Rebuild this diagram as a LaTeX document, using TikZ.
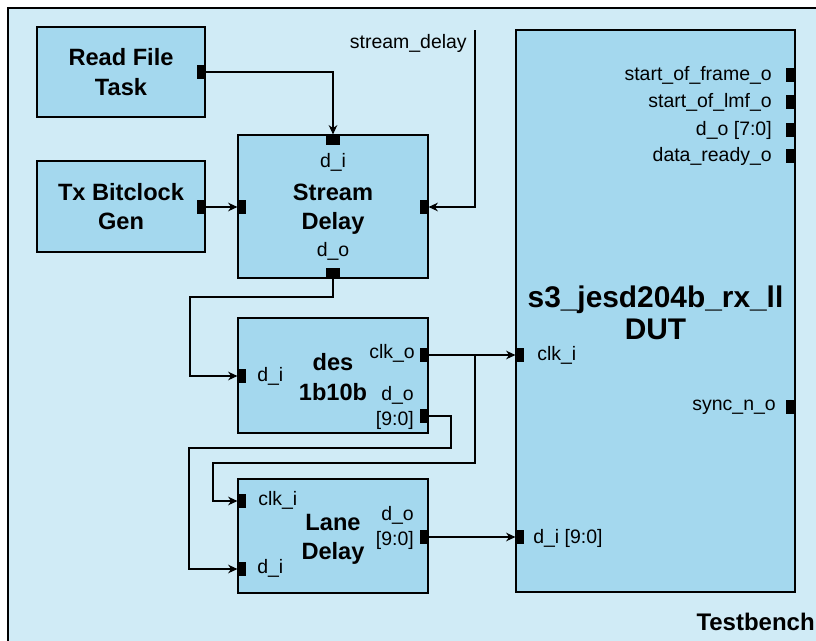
\documentclass[tikz,border=0pt]{standalone}
\usepackage{fontspec}
\setmainfont{Liberation Sans}
\usepackage{xcolor}
\definecolor{BenchBlue}{RGB}{208,235,246}
\definecolor{BlockBlue}{RGB}{164,216,238}
\usepackage{tikz}
\usetikzlibrary{positioning, arrows.meta}

\begin{document}
\begin{tikzpicture}[x=0.75pt, y=-0.75pt,
    block/.style={draw, line width=2pt, fill=BlockBlue, inner sep=0pt, align=center,
      font=\fontsize{17.7}{22}\selectfont\bfseries},
    blocksize/.style 2 args={minimum width=#1*0.75pt, minimum height=#2*0.75pt},
    vport/.style={fill=black, inner sep=0pt, minimum width=6.5pt, minimum height=10.5pt},
    hport/.style={fill=black, inner sep=0pt, minimum width=10.5pt, minimum height=8pt},
    lbl/.style={inner sep=0pt, font=\fontsize{14.6}{19}\selectfont},
    wire/.style={line width=0.8pt},
    sig/.style={wire, -{Stealth[length=7pt, width=6.5pt]}}]
  \useasboundingbox (0,0) rectangle (816,640);
  \clip (0,0) rectangle (816,640);
  % Banco de pruebas / Testbench
  \draw[fill=BenchBlue, line width=1.8pt] (8,8) rectangle (840,670);
  \node[inner sep=0pt, anchor=base east, font=\fontsize{18}{20}\selectfont\bfseries]
    (tblbl) at (815,630) {Testbench};

  % Bloques / Blocks
  \node[block, blocksize={168}{90}] (readfile) at (121,72) {Read File\\Task};
  \node[block, blocksize={168}{91}] (txgen) at (121,206.5) {Tx Bitclock\\Gen};
  \node[block, blocksize={190}{143}] (stream) at (333,206.5) {};
  \node[block, blocksize={190}{115}] (des) at (333,375.5) {};
  \node[block, blocksize={190}{114}] (lane) at (333,536) {};
  \node[block, blocksize={279}{562}] (dut) at (655.5,311) {};
  % Titulos / Titles
  \node[block, draw=none, fill=none] (stream_t) at (333,209) {Stream\\Delay};
  \node[block, draw=none, fill=none] (des_t) at (333,377) {des\\1b10b};
  \node[block, draw=none, fill=none] (lane_t) at (333,539.5) {Lane\\Delay};
  \node[block, draw=none, fill=none, font=\fontsize{22.4}{24}\selectfont\bfseries]
    (dut_t) at (655.5,313) {s3\_jesd204b\_rx\_ll\\DUT};

  % Puertos / Ports
  \node[vport] (rf_o) at (201,72) {};
  \node[vport] (tx_o) at (201,207) {};
  \node[vport] (sd_clk) at (242,207) {};
  \node[hport] (sd_di) at (333,140) {};
  \node[vport] (sd_dly) at (424,207) {};
  \node[hport] (sd_do) at (333,273) {};
  \node[vport] (des_di) at (242,376) {};
  \node[vport] (des_clk) at (424,355) {};
  \node[vport] (des_do) at (424,416) {};
  \node[vport] (ld_clk) at (242,501) {};
  \node[vport] (ld_di) at (242,569) {};
  \node[vport] (ld_do) at (424,537) {};
  \node[vport] (dut_clk) at (520,355) {};
  \node[vport] (dut_di) at (520,537) {};
  \node[vport] (dut_sof) at (790,75) {};
  \node[vport] (dut_sol) at (790,102) {};
  \node[vport] (dut_do) at (790,130) {};
  \node[vport] (dut_dr) at (790,156) {};
  \node[vport] (dut_sync) at (790,407) {};

  % Etiquetas de puertos / Port labels
  \node[lbl] (sd_di_l) at (333,162) {d\_i};
  \node[lbl] (sd_do_l) at (333,251) {d\_o};
  \node[lbl, anchor=west] (des_di_l) at (257,376) {d\_i};
  \node[lbl, anchor=east] (des_clk_l) at (415,353) {clk\_o};
  \node[lbl, anchor=east, align=right] (des_do_l) at (414,408) {d\_o\\{}[9:0]};
  \node[lbl, anchor=west] (ld_clk_l) at (258,500) {clk\_i};
  \node[lbl, anchor=west] (ld_di_l) at (257,568) {d\_i};
  \node[lbl, anchor=east, align=right] (ld_do_l) at (414,528) {d\_o\\{}[9:0]};
  \node[lbl, anchor=west] (dut_clk_l) at (537,355) {clk\_i};
  \node[lbl, anchor=west] (dut_di_l) at (533,538) {d\_i [9:0]};
  \node[lbl, anchor=east] (dut_sof_l) at (772,75) {start\_of\_frame\_o};
  \node[lbl, anchor=east] (dut_sol_l) at (772,102) {start\_of\_lmf\_o};
  \node[lbl, anchor=east] (dut_do_l) at (772,130) {d\_o [7:0]};
  \node[lbl, anchor=east] (dut_dr_l) at (772,156) {data\_ready\_o};
  \node[lbl, anchor=east] (dut_sync_l) at (776,407) {sync\_n\_o};
  \node[lbl, anchor=base east] (sdlbl) at (467,48) {stream\_delay};

  % Conexiones / Wires
  \coordinate (sdin) at (475,30);
  \coordinate (clkbr) at (475,355);
  \draw[sig] (rf_o.east) -| (sd_di.north);
  \draw[sig] (tx_o.east) -- (sd_clk.west);
  \draw[sig] (sdin) |- (sd_dly.east);
  \draw[sig] (sd_do.south) |- (190,297) |- (des_di.west);
  \draw[sig] (des_clk.east) -- (dut_clk.west);
  \draw[sig] (clkbr) |- (213,463) |- (ld_clk.west);
  \draw[sig] (des_do.east) -| (451,448) -- (189,448) |- (ld_di.west);
  \draw[sig] (ld_do.east) -- (dut_di.west);
\end{tikzpicture}
\end{document}
